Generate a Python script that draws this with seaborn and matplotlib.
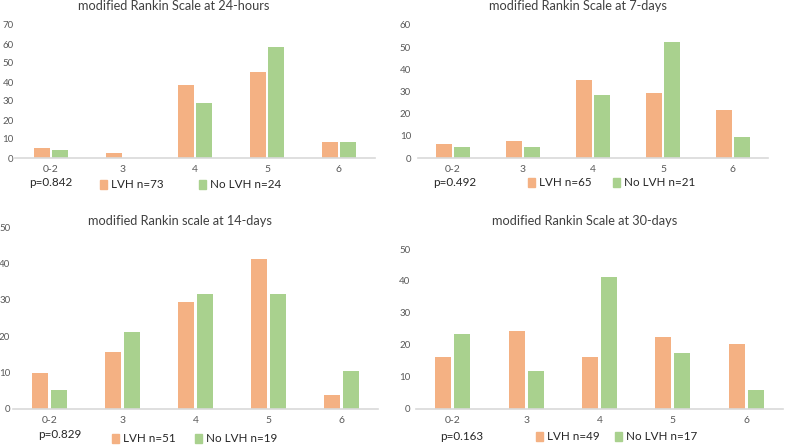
import matplotlib
matplotlib.use("Agg")
import matplotlib.pyplot as plt
import matplotlib.patches as mpatches
import seaborn as sns
import pandas as pd

categories = ["0-2", "3", "4", "5", "6"]
groups = ["LVH", "No LVH"]

# percentages
lvh_24h = [5.5, 2.7, 38.4, 45.2, 8.2]
nolvh_24h = [4.2, 0.0, 29.2, 58.3, 8.3]
lvh_7d = [6.2, 7.7, 35.4, 29.2, 21.5]
nolvh_7d = [4.8, 4.8, 28.6, 52.4, 9.5]
lvh_14d = [9.8, 15.7, 29.4, 41.2, 3.9]
nolvh_14d = [5.3, 21.1, 31.6, 31.6, 10.5]
lvh_30d = [16.3, 24.5, 16.3, 22.4, 20.4]
nolvh_30d = [23.5, 11.8, 41.2, 17.6, 5.9]

titles = ["modified Rankin Scale at 24-hours", "modified Rankin Scale at 7-days",
          "modified Rankin scale at 14-days", "modified Rankin Scale at 30-days"]
p_values = ["p=0.842", "p=0.492", "p=0.829", "p=0.163"]
n_lvh = [73, 65, 51, 49]
n_nolvh = [24, 21, 19, 17]
y_max = [70, 60, 50, 50]

colors = {"LVH": "#F4B183", "No LVH": "#A9D18E"}

sns.set_style("white")
plt.rcParams["font.family"] = ["Lato", "DejaVu Sans"]

W, H = 787, 445
fig = plt.figure(figsize=(W / 100, H / 100), dpi=100)

# panel boxes in pixels: left, right, y of zero, y of top
boxes = [(15, 375, 158, 25), (418, 768, 158, 25), (13, 378, 409, 227), (416, 783, 409, 249)]
title_pos = [(174, 6), (578, 6), (180, 221), (585, 221)]
p_pos = [(29, 183), (433, 183), (38, 435), (440, 437)]
leg_pos = [(100, 185), (528, 183), (112, 439), (536, 437)]
col_space = [3.0, 1.8, 1.65, 1.3]
tick_pad = [1, 5, 2, 4]

series = [(lvh_24h, nolvh_24h), (lvh_7d, nolvh_7d), (lvh_14d, nolvh_14d), (lvh_30d, nolvh_30d)]

for i, (lvh, nolvh) in enumerate(series):
    l, r, y0, yt = boxes[i]
    ax = fig.add_axes([l / W, 1 - y0 / H, (r - l) / W, (y0 - yt) / H])
    df = pd.DataFrame({
        "mRS": categories * 2,
        "group": ["LVH"] * 5 + ["No LVH"] * 5,
        "pct": lvh + nolvh,
    })
    sns.barplot(data=df, x="mRS", y="pct", hue="group", hue_order=groups,
                palette=colors, width=0.52, gap=0.16, legend=False, ax=ax,
                saturation=1, linewidth=0)
    ax.set_xlim(-0.5, 4.5)
    ax.set_ylim(0, y_max[i])
    ax.set_yticks(range(0, y_max[i] + 1, 10))
    ax.set_xlabel("")
    ax.set_ylabel("")
    for s in ["top", "right", "left"]:
        ax.spines[s].set_visible(False)
    ax.spines["bottom"].set_color("#D9D9D9")
    ax.spines["bottom"].set_linewidth(1.2)
    ax.tick_params(axis="y", length=0, pad=tick_pad[i], labelsize=7, labelcolor="#595959")
    ax.tick_params(axis="x", length=0, pad=5, labelsize=7.5, labelcolor="#595959")
    ax.set_facecolor("none")

    tx, ty = title_pos[i]
    fig.text(tx / W, 1 - ty / H, titles[i], ha="center", va="center",
             fontsize=9.2, color="#404040")
    px, py = p_pos[i]
    fig.text(px / W, 1 - py / H, p_values[i], ha="left", va="center",
             fontsize=8.4, color="#262626")
    handles = [mpatches.Patch(color=colors["LVH"]), mpatches.Patch(color=colors["No LVH"])]
    labels = [f"LVH n={n_lvh[i]}", f"No LVH n={n_nolvh[i]}"]
    lx, ly = leg_pos[i]
    leg = ax.legend(handles, labels, loc="center left", ncol=2, frameon=False,
                    bbox_to_anchor=(lx / W, 1 - ly / H), bbox_transform=fig.transFigure,
                    fontsize=8.4, handlelength=0.6, handleheight=0.75,
                    handletextpad=0.35, columnspacing=col_space[i],
                    borderpad=0, borderaxespad=0)
    for t in leg.get_texts():
        t.set_color("#262626")

fig.savefig("out.png", dpi=100, facecolor="white")
